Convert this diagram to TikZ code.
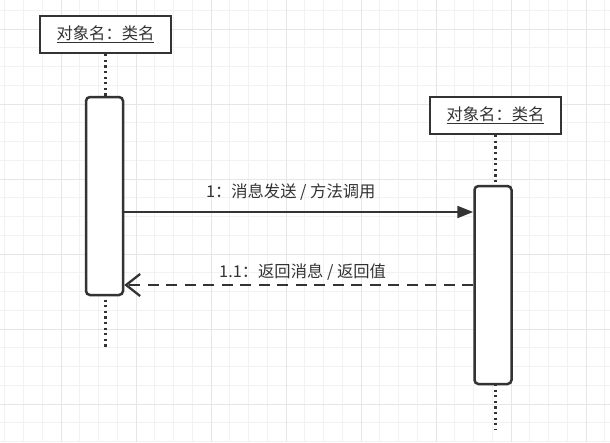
\documentclass[tikz,border=0pt]{standalone}
\usepackage{fontspec}
\setmainfont{Noto Sans CJK SC}
\usetikzlibrary{arrows.meta}
\definecolor{ink}{HTML}{333333}
\definecolor{gridminor}{HTML}{F2F2F2}
\definecolor{gridmajor}{HTML}{E6E6E6}
\begin{document}
\begin{tikzpicture}[x=1pt, y=-1pt,
  objbox/.style={draw=ink, fill=white, line width=2.5pt, minimum width=131pt, minimum height=37pt, inner sep=0pt, text=ink, font=\fontsize{16.3}{19}\selectfont},
  actbox/.style={draw=ink, fill=white, line width=2.5pt, rounded corners=4pt, minimum width=37pt, minimum height=198pt, inner sep=0pt},
  lifeline/.style={ink, line width=2.2pt, dash pattern=on 2.2pt off 3.4pt},
  msg/.style={ink, line width=2.3pt},
  msglabel/.style={text=ink, inner sep=0pt, font=\fontsize{16.3}{19}\selectfont}]
\useasboundingbox[fill=white] (0,0) rectangle (610,442);

% grid
\foreach \k in {0,...,32} \draw[gridminor, line width=1pt] ({4.75+18.75*\k},0) -- ({4.75+18.75*\k},442);
\foreach \k in {0,...,23} \draw[gridminor, line width=1pt] (0,{10.25+18.75*\k}) -- (610,{10.25+18.75*\k});
\foreach \k in {1,...,8} \draw[gridmajor, line width=1pt] ({-14+75*\k},0) -- ({-14+75*\k},442);
\foreach \k in {0,...,5} \draw[gridmajor, line width=1pt] (0,{29+75*\k}) -- (610,{29+75*\k});

% objects
\node[objbox] (objA) at (105.5,34.5) {\underline{对象名：类名}};
\node[objbox] (objB) at (495.5,115.5) {\underline{对象名：类名}};
\coordinate (endA) at (105.5,348);
\coordinate (endB) at (495.5,429);

% lifelines
\draw[lifeline] (objA.south) -- (objA.south |- 0,97);
\draw[lifeline] (objA.south |- 0,294) -- (endA);
\draw[lifeline] (objB.south) -- (objB.south |- 0,186);
\draw[lifeline] (objB.south |- 0,384) -- (endB);

% activations
\node[actbox] (actA) at (104.5,196) {};
\node[actbox] (actB) at (493,285) {};

% messages
\coordinate (m1) at (0,212);
\coordinate (m2) at (0,285);
\draw[msg, -{Triangle[length=16pt, width=12pt]}] (actA.east |- m1) -- node[msglabel, pos=.477, yshift=20pt]{1：消息发送 / 方法调用} (actB.west |- m1);
\draw[msg, dash pattern=on 11pt off 7.5pt, -{Straight Barb[length=14pt, width=22pt]}] (actB.west |- m2) -- node[msglabel, pos=.489, yshift=12.5pt]{1.1：返回消息 / 返回值} (actA.east |- m2);
\end{tikzpicture}
\end{document}
